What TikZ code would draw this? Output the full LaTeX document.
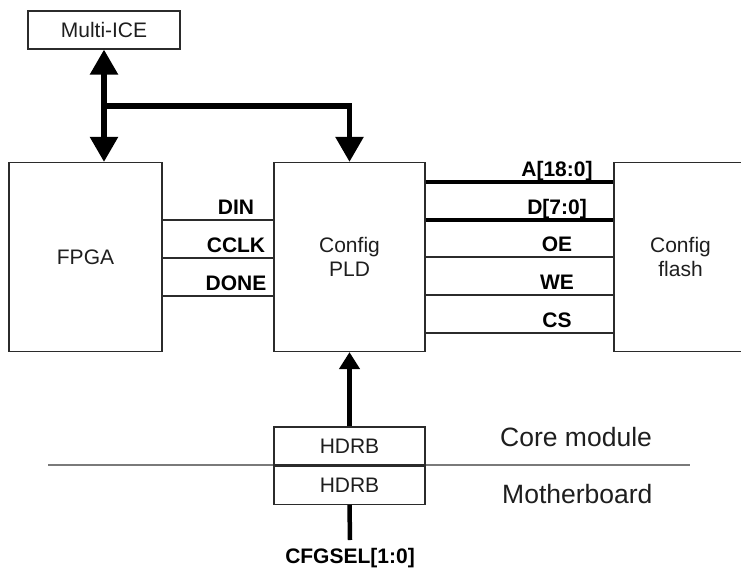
\documentclass[tikz,border=0pt]{standalone}
\usepackage{fontspec}
\setmainfont{Liberation Sans}
\usetikzlibrary{arrows.meta,positioning,calc}
\definecolor{BoxLine}{HTML}{2B2B2B}
\definecolor{RuleGrey}{HTML}{7A7A7A}
\definecolor{InkText}{HTML}{1E1E1E}

\tikzset{
  blk/.style={draw=BoxLine,line width=1.2pt,inner sep=0pt,align=center,text=InkText,font=\fontsize{21}{24}\selectfont},
  sig/.style={line width=1.3pt,color=BoxLine},
  bus/.style={line width=4.5pt},
  lbl/.style={anchor=base,inner sep=0pt,font=\fontsize{21}{24}\selectfont\bfseries},
  board/.style={anchor=base west,inner sep=0pt,text=InkText,font=\fontsize{26.5}{30}\selectfont},
  bigtip/.style={-{Triangle[length=25pt,width=27pt]}},
}

\begin{document}
\begin{tikzpicture}[x=1pt,y=-1pt]
  \useasboundingbox (0,0) rectangle (741,568);
  % board separator goes under the headers
  \draw[RuleGrey,line width=1.3pt] (48,465) -- (690,465);

  \node[blk,minimum width=152pt,minimum height=38pt] (ice) at (104,30) {Multi-ICE};
  \node[blk,minimum width=153pt,minimum height=189pt] (fpga) at (85.5,257) {FPGA};
  \node[blk,minimum width=151pt,minimum height=189pt] (pld) at (349.5,257) {Config\\PLD};
  \node[blk,minimum width=133pt,minimum height=189pt] (flash) at (680.5,257) {Config\\flash};
  \node[blk,minimum width=151pt,minimum height=38pt] (hdrtop) at (349.5,446) {HDRB};
  \node[blk,minimum width=151pt,minimum height=38pt,below=0pt of hdrtop] (hdrbot) {HDRB};

  \node[board] (core) at (500,446) {Core module};
  \node[board] (mb) at (502,503) {Motherboard};

  % JTAG from Multi-ICE
  \coordinate (tee) at (ice.south |- 0,106);
  \draw[bus,line width=5.5pt,{Triangle[length=25pt,width=27pt]}-{Triangle[length=25pt,width=27pt]}]
    (ice.south) -- (ice.south |- fpga.north);
  \draw[bus,line width=5.5pt,bigtip] (tee) -| (pld.north);

  % FPGA configuration signals
  \foreach \y/\txt/\id in {220/DIN/din,258/CCLK/cclk,296/DONE/done}{
    \draw[sig] (fpga.east |- 0,\y) -- (pld.west |- 0,\y);
    \node[lbl] (l\id) at (236,\y-6) {\txt};
  }

  % flash interface
  \foreach \y/\txt/\id/\w in {182/{A[18:0]}/addr/bus,220/{D[7:0]}/data/bus,257/OE/oe/sig,295/WE/we/sig,333/CS/cs/sig}{
    \draw[\w] (pld.east |- 0,\y) -- (flash.west |- 0,\y);
    \node[lbl] (l\id) at (557,\y-6) {\txt};
  }

  % CFGSEL from the motherboard
  \draw[bus,-{Triangle[length=17pt,width=20pt]}] (hdrtop.north) -- (pld.south);
  \node[lbl] (cfg) at (350,563) {CFGSEL[1:0]};
  \coordinate (cfgend) at (350,540);
  \draw[bus] (hdrbot.south) -- (cfgend);
\end{tikzpicture}
\end{document}
